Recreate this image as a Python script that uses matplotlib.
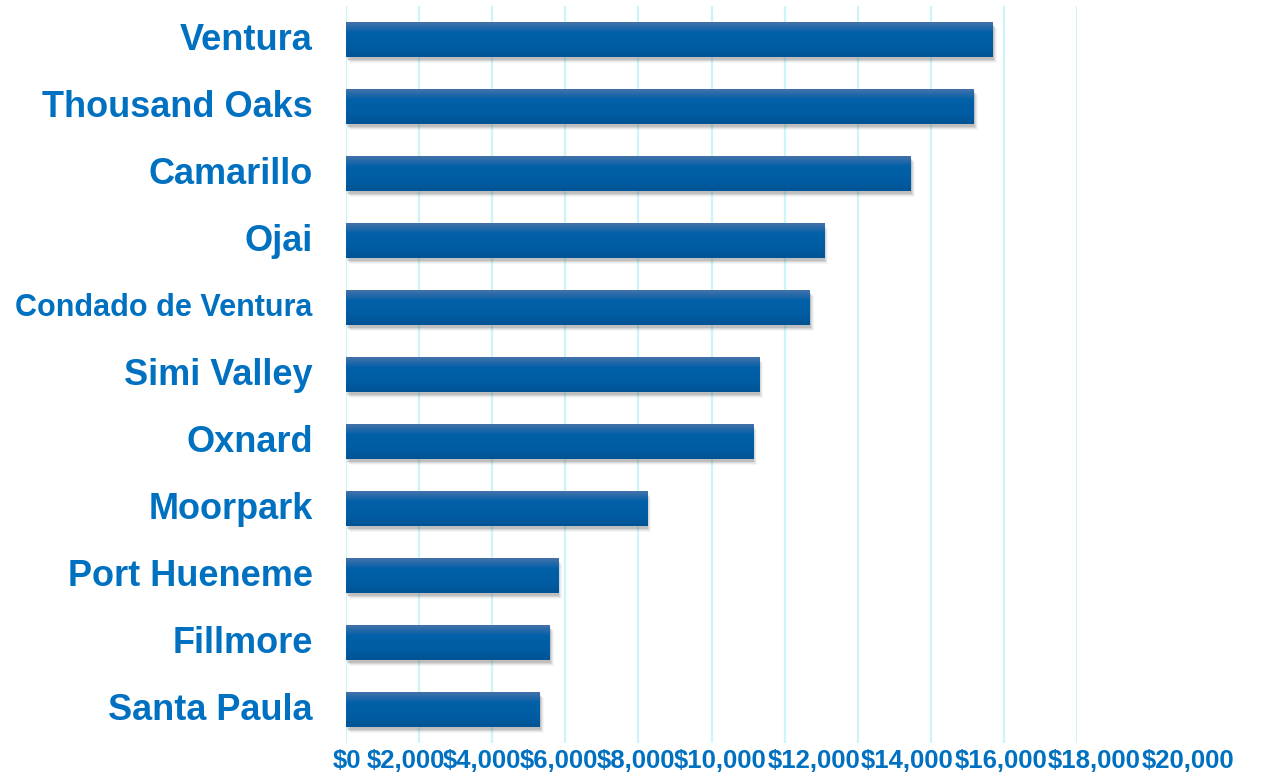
import numpy as np
import matplotlib.pyplot as plt
import matplotlib.transforms as mtransforms
from matplotlib.colors import LinearSegmentedColormap

# --- data (top to bottom as shown) ---
cities = ['Ventura', 'Thousand Oaks', 'Camarillo', 'Ojai', 'Condado de Ventura',
          'Simi Valley', 'Oxnard', 'Moorpark', 'Port Hueneme', 'Fillmore', 'Santa Paula']
income = [17690, 17170, 15450, 13080, 12690, 11300, 11140, 8240, 5810, 5570, 5300]
x_ticks = [0, 2000, 4000, 6000, 8000, 10000, 12000, 14000, 16000, 18000, 20000]
x_labels = ['$0', '$2,000', '$4,000', '$6,000', '$8,000', '$10,000',
            '$12,000', '$14,000', '$16,000', '$18,000', '$20,000']

# where the (crowded) x labels sit, in pixels from the left edge
label_px = [347, 405.5, 482, 559, 636, 720, 813.6, 907.2, 1000.8, 1094.4, 1188]

blue_txt = '#0070C0'
font = 'Liberation Sans'

W, H = 1264, 774
fig = plt.figure(figsize=(W / 100, H / 100), dpi=100)
ax = fig.add_axes([346 / W, 1 - 743 / H, (1077 - 346) / W, (743 - 6) / H])

y = np.arange(len(cities))
vals = np.array(income, dtype=float)
bh = 0.52

# soft drop shadow
px_x = 2000 / 73.2
px_y = 1 / 66.8
for k, a in zip([1, 2, 3, 4], [0.18, 0.12, 0.08, 0.05]):
    ax.barh(y + (2 + k) * px_y, vals, left=k * px_x, height=bh,
            color='#555555', alpha=a, lw=0, zorder=2)

# bars with vertical gradient
bars = ax.barh(y, vals, height=bh, color='#0060A8', lw=0, zorder=3)
cmap = LinearSegmentedColormap.from_list(
    'bar', [(0, '#4472AA'), (0.3, '#0060A8'), (0.7, '#005DA3'), (1, '#005395')])
grad = np.linspace(0, 1, 64).reshape(-1, 1)
for b in bars:
    x0, y0 = b.get_x(), b.get_y()
    w, h = b.get_width(), b.get_height()
    im = ax.imshow(grad, cmap=cmap, aspect='auto', interpolation='bilinear',
                   extent=[x0, x0 + w, y0 + h, y0], zorder=4)
    im.set_clip_path(b)

ax.set_xlim(0, 20000)
ax.set_ylim(len(cities) - 0.5, -0.5)

ax.set_xticks(x_ticks)
ax.grid(axis='x', color='#CDF5F8', lw=1.6, zorder=0)
ax.set_axisbelow(True)
ax.tick_params(axis='x', length=0, labelbottom=False)

ax.set_yticks(y, cities)
ax.tick_params(axis='y', length=0, pad=24)
shift_up = mtransforms.ScaledTranslation(0, 3 / 100, fig.dpi_scale_trans)
for lab in ax.get_yticklabels():
    lab.set_fontfamily(font)
    lab.set_fontweight('bold')
    lab.set_color(blue_txt)
    lab.set_fontsize(22 if lab.get_text() == 'Condado de Ventura' else 26)
    lab.set_transform(lab.get_transform() + shift_up)

for s in ax.spines.values():
    s.set_visible(False)

# x labels, crowded together like the original
for lbl, px in zip(x_labels, label_px):
    fig.text(px / W, 1 - 761 / H, lbl, ha='center', va='center',
             fontsize=18.5, fontweight='bold', color=blue_txt, family=font)

fig.savefig('out.png', dpi=100)
